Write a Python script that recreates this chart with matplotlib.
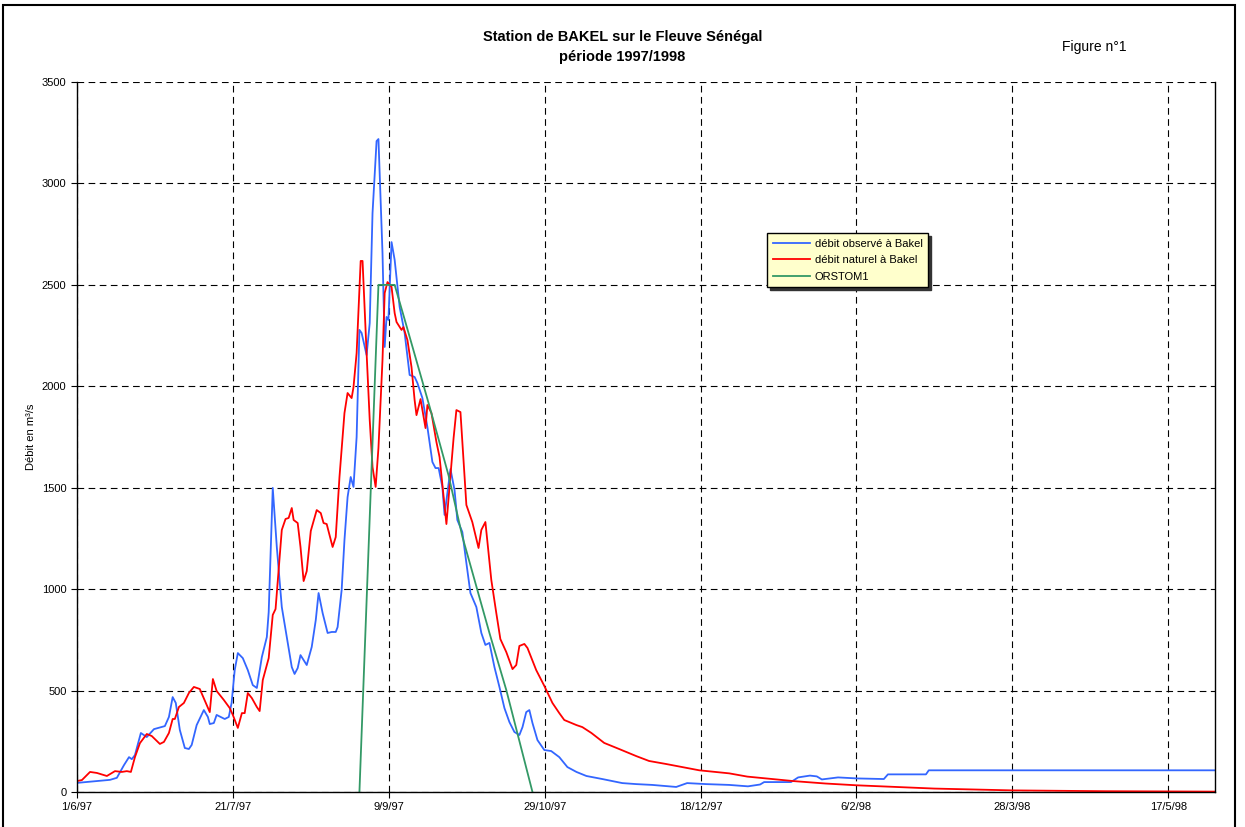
import matplotlib
matplotlib.use("Agg")
import matplotlib.pyplot as plt
from matplotlib.patches import Rectangle

plt.rcParams['font.family'] = ['Liberation Sans', 'DejaVu Sans']

# days counted from 1/6/97
obs_days = [0, 10.6, 12.8, 15.1, 16.7, 17.6, 18.6, 20.5, 22.4, 24.7, 28.2, 29.5, 30.7, 31.7, 33.0,
            34.6, 35.9, 36.8, 38.4, 40.7, 42.0, 42.6, 43.9, 44.8, 47.4, 48.7, 49.6, 50.6, 51.6,
            53.2, 54.8, 56.4, 57.7, 59.3, 60.9, 61.5, 62.8, 64.1, 65.7, 67.3, 68.9, 69.8, 70.8,
            71.7, 73.7, 75.3, 76.6, 77.5, 78.8, 80.4, 81.7, 83.0, 83.6, 84.9, 85.8, 86.8, 87.8,
            88.7, 89.7, 90.6, 91.3, 92.9, 93.9, 94.8, 96.1, 96.7, 98.0, 98.7, 99.3, 99.9, 100.9,
            101.9, 103.5, 105.1, 106.7, 108.3, 109.2, 110.8, 112.4, 114.0, 115.0, 116.0, 117.2,
            117.9, 119.8, 121.1, 122.0, 123.6, 124.9, 126.2, 128.1, 129.7, 131.0, 132.3, 133.9,
            135.5, 137.1, 138.7, 140.3, 141.9, 142.9, 144.1, 145.1, 146.1, 147.7, 149.9, 152.1,
            154.7, 157.3, 160.2, 163.4, 168.5, 174.9, 179.4, 184.5, 192.2, 195.7, 201.8, 209.2,
            215.2, 219.1, 220.4, 229.0, 231.3, 235.1, 237.3, 238.9, 244.1, 250.2, 258.8, 260.1,
            272.3, 273.2, 365]
obs_vals = [45, 60, 70, 133, 172, 162, 182, 291, 271, 310, 325, 370, 468, 439, 306,
            217, 212, 232, 330, 404, 370, 335, 340, 380, 360, 370, 439, 601, 685,
            660, 601, 527, 513, 665, 764, 887, 1499, 1208, 912, 764, 616, 582, 611,
            675, 626, 715, 848, 981, 882, 784, 789, 789, 813, 996, 1242, 1454, 1553,
            1504, 1750, 2278, 2263, 2154, 2312, 2854, 3209, 3219, 2657, 2194, 2342, 2327, 2711,
            2623, 2391, 2263, 2056, 2046, 2016, 1942, 1799, 1627, 1597, 1597, 1504,
            1366, 1592, 1489, 1341, 1282, 1129, 981, 912, 784, 725, 735, 616,
            518, 414, 345, 296, 281, 320, 394, 404, 340, 256, 207, 202,
            172, 123, 99, 79, 64, 44, 39, 35, 25, 44, 39, 35,
            28, 37, 49, 49, 72, 81, 77, 62, 72, 67, 64, 87,
            87, 107, 107]

nat_days = [0, 1.6, 4.2, 6.4, 9.6, 12.2, 14.4, 16.0, 17.3, 18.6, 20.2, 22.4, 24.0, 26.6, 27.9,
            29.5, 30.7, 31.4, 32.7, 34.3, 35.9, 37.5, 39.4, 42.6, 43.6, 44.8, 47.1, 49.0, 50.0,
            51.6, 52.9, 53.8, 54.8, 56.1, 57.7, 58.6, 59.6, 61.5, 62.8, 63.7, 65.7, 66.9, 67.9,
            68.9, 69.5, 70.8, 71.7, 72.7, 73.7, 75.0, 76.9, 78.2, 79.1, 80.1, 82.0, 83.0, 84.2,
            85.8, 86.8, 88.1, 88.7, 89.7, 91.0, 91.6, 92.9, 93.9, 94.8, 95.8, 96.7, 98.0, 98.7,
            99.6, 100.9, 101.9, 102.5, 104.1, 104.7, 106.0, 107.3, 108.3, 108.9, 110.2, 111.8,
            112.4, 113.7, 115.3, 116.3, 118.5, 120.8, 121.7, 123.0, 124.9, 126.8, 128.8, 129.7,
            131.0, 132.9, 134.5, 135.8, 137.7, 139.7, 140.9, 141.9, 143.5, 144.5, 147.3, 149.9,
            152.5, 154.7, 156.3, 160.2, 162.1, 165.0, 169.1, 173.9, 179.4, 183.5, 189.0, 199.6,
            209.2, 215.0, 229.7, 240.0, 250.2, 275.0, 300.1, 330.0, 365]
nat_vals = [54, 59, 99, 94, 79, 103, 99, 103, 99, 172, 241, 286, 276, 237, 247,
            291, 360, 360, 419, 439, 488, 518, 508, 394, 557, 498, 454, 414, 380,
            316, 389, 389, 488, 463, 419, 399, 552, 660, 873, 902, 1292, 1346, 1351,
            1400, 1341, 1326, 1208, 1040, 1089, 1287, 1390, 1375, 1326, 1321, 1208, 1257, 1553,
            1868, 1967, 1942, 1996, 2164, 2618, 2618, 2164, 1834, 1602, 1504, 1696, 2130, 2460,
            2514, 2490, 2361, 2317, 2278, 2292, 2228, 2095, 1932, 1858, 1937, 1794,
            1908, 1868, 1725, 1651, 1321, 1745, 1883, 1873, 1415, 1331, 1203, 1292,
            1331, 1045, 882, 754, 690, 606, 626, 720, 730, 710, 601, 523,
            439, 389, 355, 330, 320, 291, 242, 212, 177, 153, 138, 107,
            92, 76, 54, 42, 33, 17, 8, 4, 2]

orstom_days = [90.6, 96.7, 101.9, 105.1, 113.1, 119.2, 123.6, 132.3, 137.7, 146.1]
orstom_vals = [0, 2500, 2500, 2330, 1900, 1560, 1260, 784, 503, 0]

tick_days = [0, 50, 100, 150, 200, 250, 300, 350]
tick_labels = ['1/6/97', '21/7/97', '9/9/97', '29/10/97', '18/12/97', '6/2/98', '28/3/98', '17/5/98']

fig = plt.figure(figsize=(12.45, 8.27), dpi=100)
ax = fig.add_axes([0.0618, 0.0423, 0.9141, 0.8585])

ax.plot(obs_days, obs_vals, color='#3366FF', lw=1.3, label='débit observé à Bakel')
ax.plot(nat_days, nat_vals, color='#FF0000', lw=1.3, label='débit naturel à Bakel')
ax.plot(orstom_days, orstom_vals, color='#339966', lw=1.3, label='ORSTOM1')

ax.set_xlim(0, 365)
ax.set_ylim(0, 3500)
ax.set_xticks(tick_days)
ax.set_xticklabels(tick_labels)
ax.set_yticks(range(0, 3501, 500))
ax.tick_params(labelsize=8, direction='out', length=4, width=0.8)
ax.grid(True, color='black', linestyle=(0, (6, 4)), lw=0.8)
ax.spines['top'].set_visible(False)
for s in ['left', 'bottom', 'right']:
    ax.spines[s].set_linewidth(1.0)
ax.set_ylabel('Débit en m³/s', fontsize=8, labelpad=4)

fig.text(0.5, 0.955, 'Station de BAKEL sur le Fleuve Sénégal', ha='center', va='center',
         fontsize=10.5, fontweight='bold')
fig.text(0.5, 0.931, 'période 1997/1998', ha='center', va='center', fontsize=10.5, fontweight='bold')
fig.text(0.879, 0.943, 'Figure n°1', ha='center', va='center', fontsize=10)

leg = ax.legend(loc='upper left', bbox_to_anchor=(767 / 1245, 1 - 233 / 827),
                bbox_transform=fig.transFigure, fontsize=8, frameon=True, fancybox=False,
                shadow={'color': '#333333', 'alpha': 1}, handlelength=3.4, borderpad=0.5,
                labelspacing=0.6, handletextpad=0.4, borderaxespad=0)
leg.get_frame().set_facecolor('#FFFFCC')
leg.get_frame().set_edgecolor('black')
leg.get_frame().set_alpha(1)

fig.patches.append(Rectangle((3 / 1245, -0.01), 1232 / 1245, 1 - 5 / 827 + 0.01,
                             transform=fig.transFigure, fill=False, edgecolor='black', lw=1.5))

fig.savefig('out.png', dpi=100)
